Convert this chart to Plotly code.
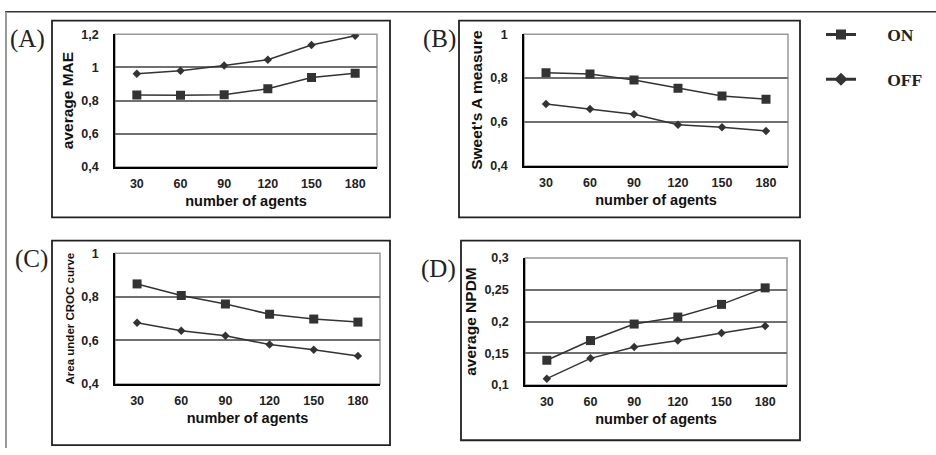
import plotly.graph_objects as go

W, H = 936, 455

agents = ["30", "60", "90", "120", "150", "180"]

mae_on = [0.834, 0.832, 0.835, 0.871, 0.939, 0.965]
mae_off = [0.961, 0.980, 1.011, 1.046, 1.134, 1.190]

sweet_on = [0.824, 0.818, 0.791, 0.754, 0.718, 0.704]
sweet_off = [0.682, 0.659, 0.635, 0.588, 0.576, 0.559]

croc_on = [0.859, 0.806, 0.767, 0.720, 0.698, 0.684]
croc_off = [0.681, 0.644, 0.621, 0.581, 0.557, 0.529]

npdm_on = [0.139, 0.170, 0.196, 0.207, 0.227, 0.253]
npdm_off = [0.110, 0.142, 0.160, 0.170, 0.182, 0.193]

y_titles = ["average MAE", "Sweet's A measure", "Area under CROC curve", "average NPDM"]
panel_labels = ["(A)", "(B)", "(C)", "(D)"]
y_ranges = [[0.4, 1.2], [0.4, 1.0], [0.4, 1.0], [0.1, 0.3]]
y_ticks = [[0.4, 0.6, 0.8, 1.0, 1.2], [0.4, 0.6, 0.8, 1.0], [0.4, 0.6, 0.8, 1.0],
           [0.1, 0.15, 0.2, 0.25, 0.3]]
y_ticktext = [["0,4", "0,6", "0,8", "1", "1,2"], ["0,4", "0,6", "0,8", "1"],
              ["0,4", "0,6", "0,8", "1"], ["0,1", "0,15", "0,2", "0,25", "0,3"]]
series_names = ["ON", "OFF"]

# layout geometry (pixels)
plot_boxes = [(115, 377, 28, 165), (524, 788, 28, 164), (115, 380, 254, 389), (525, 787, 259, 390)]
outer_boxes = [(52, 390, 14, 217), (459, 800, 14, 217), (52, 390, 241, 452), (461, 800, 241, 447)]
label_pos = [(27, 33), (439, 33), (31, 260), (438, 270)]
title_sizes = [15.5, 15.5, 11.5, 15.5]

def px(x):
    return x / W

def py(y):
    return 1 - y / H

LINE_C = "#333333"
fig = go.Figure()
data = [(mae_on, mae_off), (sweet_on, sweet_off), (croc_on, croc_off), (npdm_on, npdm_off)]
symbols = [("square", 9), ("diamond", 6.5)]

shapes = []
annotations = []
for i, (on, off) in enumerate(data):
    xa = "x" if i == 0 else f"x{i+1}"
    ya = "y" if i == 0 else f"y{i+1}"
    for vals, (sym, size), name in zip([on, off], symbols, series_names):
        fig.add_trace(go.Scatter(
            x=agents, y=vals, mode="lines+markers", name=name,
            line=dict(color=LINE_C, width=1.5),
            marker=dict(symbol=sym, size=size, color=LINE_C),
            xaxis=xa, yaxis=ya, showlegend=False, legendgroup=name,
        ))
    x0, x1, y0, y1 = plot_boxes[i]
    axn = "" if i == 0 else str(i + 1)
    fig.layout["xaxis" + axn] = dict(
        domain=[px(x0), px(x1)], anchor=ya, type="category", range=[-0.5, 5.5],
        showgrid=False, showline=True, linecolor="black", linewidth=1.5,
        ticks="", tickfont=dict(family="Liberation Sans", size=12.5, color="#222", weight="bold"),
        ticklabelstandoff=4,
        title=dict(text="number of agents", standoff=6,
                   font=dict(family="Liberation Sans", size=14.5, color="#111", weight="bold")),
        zeroline=False,
    )
    fig.layout["yaxis" + axn] = dict(
        domain=[py(y1), py(y0)], anchor=xa, range=y_ranges[i],
        tickvals=y_ticks[i], ticktext=y_ticktext[i],
        showgrid=True, gridcolor="#707070", gridwidth=1.5,
        showline=True, linecolor="black", linewidth=1.5, ticks="",
        tickfont=dict(family="Liberation Sans", size=12.5, color="#222", weight="bold"),
        ticklabelstandoff=12,
        title=dict(text=y_titles[i], standoff=4,
                   font=dict(family="Liberation Sans", size=title_sizes[i], color="#111", weight="bold")),
        zeroline=False,
    )
    # gray plot-area frame (top/right)
    shapes.append(dict(type="rect", xref=xa + " domain", yref=ya + " domain",
                       x0=0, x1=1, y0=0, y1=1, line=dict(color="#999999", width=1.5), layer="below"))
    # outer panel box
    ox0, ox1, oy0, oy1 = outer_boxes[i]
    shapes.append(dict(type="rect", xref="paper", yref="paper",
                       x0=px(ox0), x1=px(ox1), y0=py(oy1), y1=py(oy0),
                       line=dict(color="#222222", width=1.8)))
    lx, ly = label_pos[i]
    annotations.append(dict(text=panel_labels[i], xref="paper", yref="paper",
                            x=px(lx), y=py(ly), showarrow=False, xanchor="center", yanchor="middle",
                            font=dict(family="Liberation Serif", size=25, color="#222")))

# legend-only entries (drawn in the legend with a heavier key like the reference)
for (sym, size), name in zip([("square", 10), ("diamond", 10)], series_names):
    fig.add_trace(go.Scatter(
        x=[None], y=[None], mode="lines+markers", name="\u00a0" * 6 + name,
        line=dict(color=LINE_C, width=3), marker=dict(symbol=sym, size=size, color=LINE_C),
        legendgroup=name, showlegend=True,
    ))

# figure frame (top and left)
shapes.append(dict(type="line", xref="paper", yref="paper", x0=px(5), x1=1, y0=py(5), y1=py(5),
                   line=dict(color="#333333", width=1.5)))
shapes.append(dict(type="line", xref="paper", yref="paper", x0=px(6), x1=px(6), y0=py(5), y1=0,
                   line=dict(color="#999999", width=2)))

fig.update_layout(
    width=W, height=H, margin=dict(l=0, r=0, t=0, b=0),
    plot_bgcolor="white", paper_bgcolor="white",
    shapes=shapes, annotations=annotations,
    showlegend=True,
    legend=dict(x=px(821), y=py(10), xanchor="left", yanchor="top",
                font=dict(family="Liberation Serif", size=17.5, color="#222", weight="bold"),
                tracegroupgap=19, traceorder="grouped", bgcolor="rgba(0,0,0,0)", itemwidth=30),
)
fig.write_html("out.html", config={"displayModeBar": False},
               post_script="document.body.style.margin='0';document.body.style.overflow='hidden';")
